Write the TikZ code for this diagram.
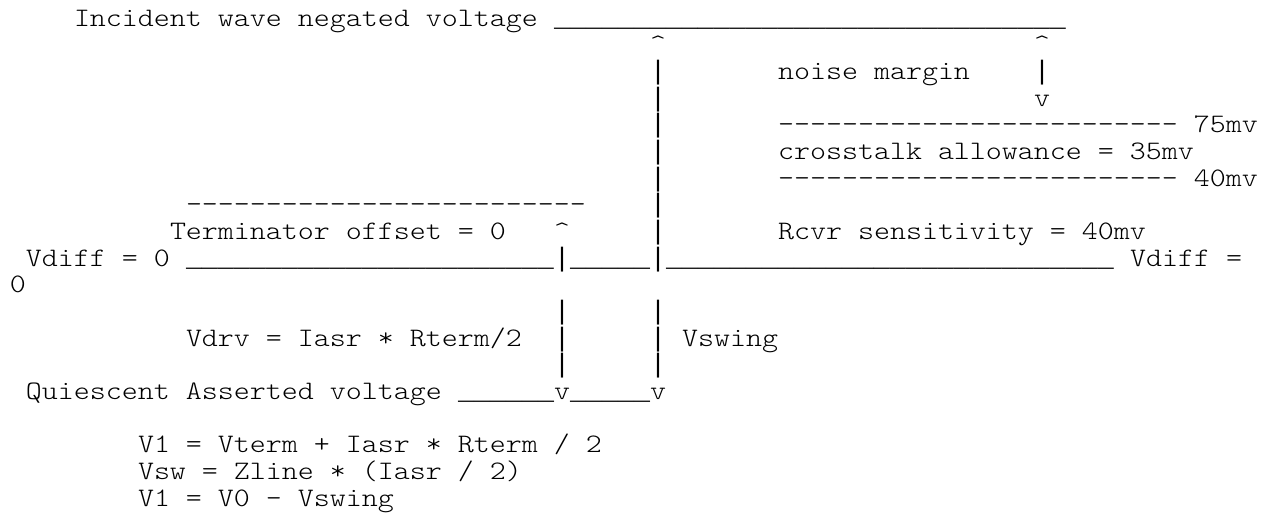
\documentclass[tikz,border=0pt]{standalone}
\usepackage{fontspec}
\setmonofont{lmmonolt10-regular.otf}[FakeStretch=1.142857]
\newfontfamily\artfont{Liberation Mono}
\tikzset{
  txt/.style={anchor=base west, inner sep=0pt, outer sep=0pt,
    font=\ttfamily\fontsize{13.333pt}{13.333pt}\selectfont},
  art/.style={txt, font=\artfont\fontsize{13.333pt}{13.333pt}\selectfont}
}
\begin{document}
\begin{tikzpicture}[x=8pt, y=-13.333pt]
  \useasboundingbox (-0.625,-0.975) rectangle (78.75,18.2625);

  % Incident wave level
  \node[txt] (incident) at (4,0) {Incident wave negated voltage};
  \node[art] (topline) at (34,0) {\foreach \i in {1,...,32}{\_}};

  % Vswing arrow, right branch
  \node[txt] (swingtop) at (40,1) {\textasciicircum};
  \foreach \r in {2,...,8,9,11,12,13}
    \node[art] (swing\r) at (40,\r) {\textbar};
  \node[txt] (swingbot) at (40,14) {v};

  % Noise margin arrow
  \node[txt] (noisetop) at (64,1) {\textasciicircum};
  \node[art] (noisebar) at (64,2) {\textbar};
  \node[txt] (noisebot) at (64,3) {v};
  \node[txt] (noise) at (48,2) {noise margin};

  % Receiver budget
  \node[txt] (lvl75) at (48,4) {------------------------- 75mv};
  \node[txt] (xtalk) at (48,5) {crosstalk allowance = 35mv};
  \node[txt] (lvl40) at (48,6) {------------------------- 40mv};
  \node[txt] (rcvr) at (48,8) {Rcvr sensitivity = 40mv};

  % Terminator offset
  \node[txt] (termline) at (11,7) {-------------------------};
  \node[txt] (term) at (10,8) {Terminator offset = 0};

  % Vdrv arrow, left branch
  \node[txt] (drvtop) at (34,8) {\textasciicircum};
  \foreach \r in {9,11,12,13}
    \node[art] (drv\r) at (34,\r) {\textbar};
  \node[txt] (drvbot) at (34,14) {v};

  % Vdiff = 0 level
  \node[txt] (vdiffL) at (1,9) {Vdiff = 0};
  \node[art] (zeroA) at (11,9) {\foreach \i in {1,...,23}{\_}};
  \node[art] (zeroB) at (35,9) {\foreach \i in {1,...,5}{\_}};
  \node[art] (zeroC) at (41,9) {\foreach \i in {1,...,28}{\_}};
  \node[txt] (vdiffR) at (70,9) {Vdiff =};
  \node[txt] (wrap) at (0,10) {0};

  % Labels of the two arrows
  \node[txt] (vdrv) at (11,12) {Vdrv = Iasr * Rterm/2};
  \node[txt] (vswing) at (42,12) {Vswing};

  % Quiescent asserted level
  \node[txt] (quiet) at (1,14) {Quiescent Asserted voltage};
  \node[art] (quietA) at (28,14) {\foreach \i in {1,...,6}{\_}};
  \node[art] (quietB) at (35,14) {\foreach \i in {1,...,5}{\_}};

  % Equations
  \node[txt] (eqA) at (8,16) {V1 = Vterm + Iasr * Rterm / 2};
  \node[txt] (eqB) at (8,17) {Vsw = Zline * (Iasr / 2)};
  \node[txt] (eqC) at (8,18) {V1 = V0 - Vswing};
\end{tikzpicture}
\end{document}
